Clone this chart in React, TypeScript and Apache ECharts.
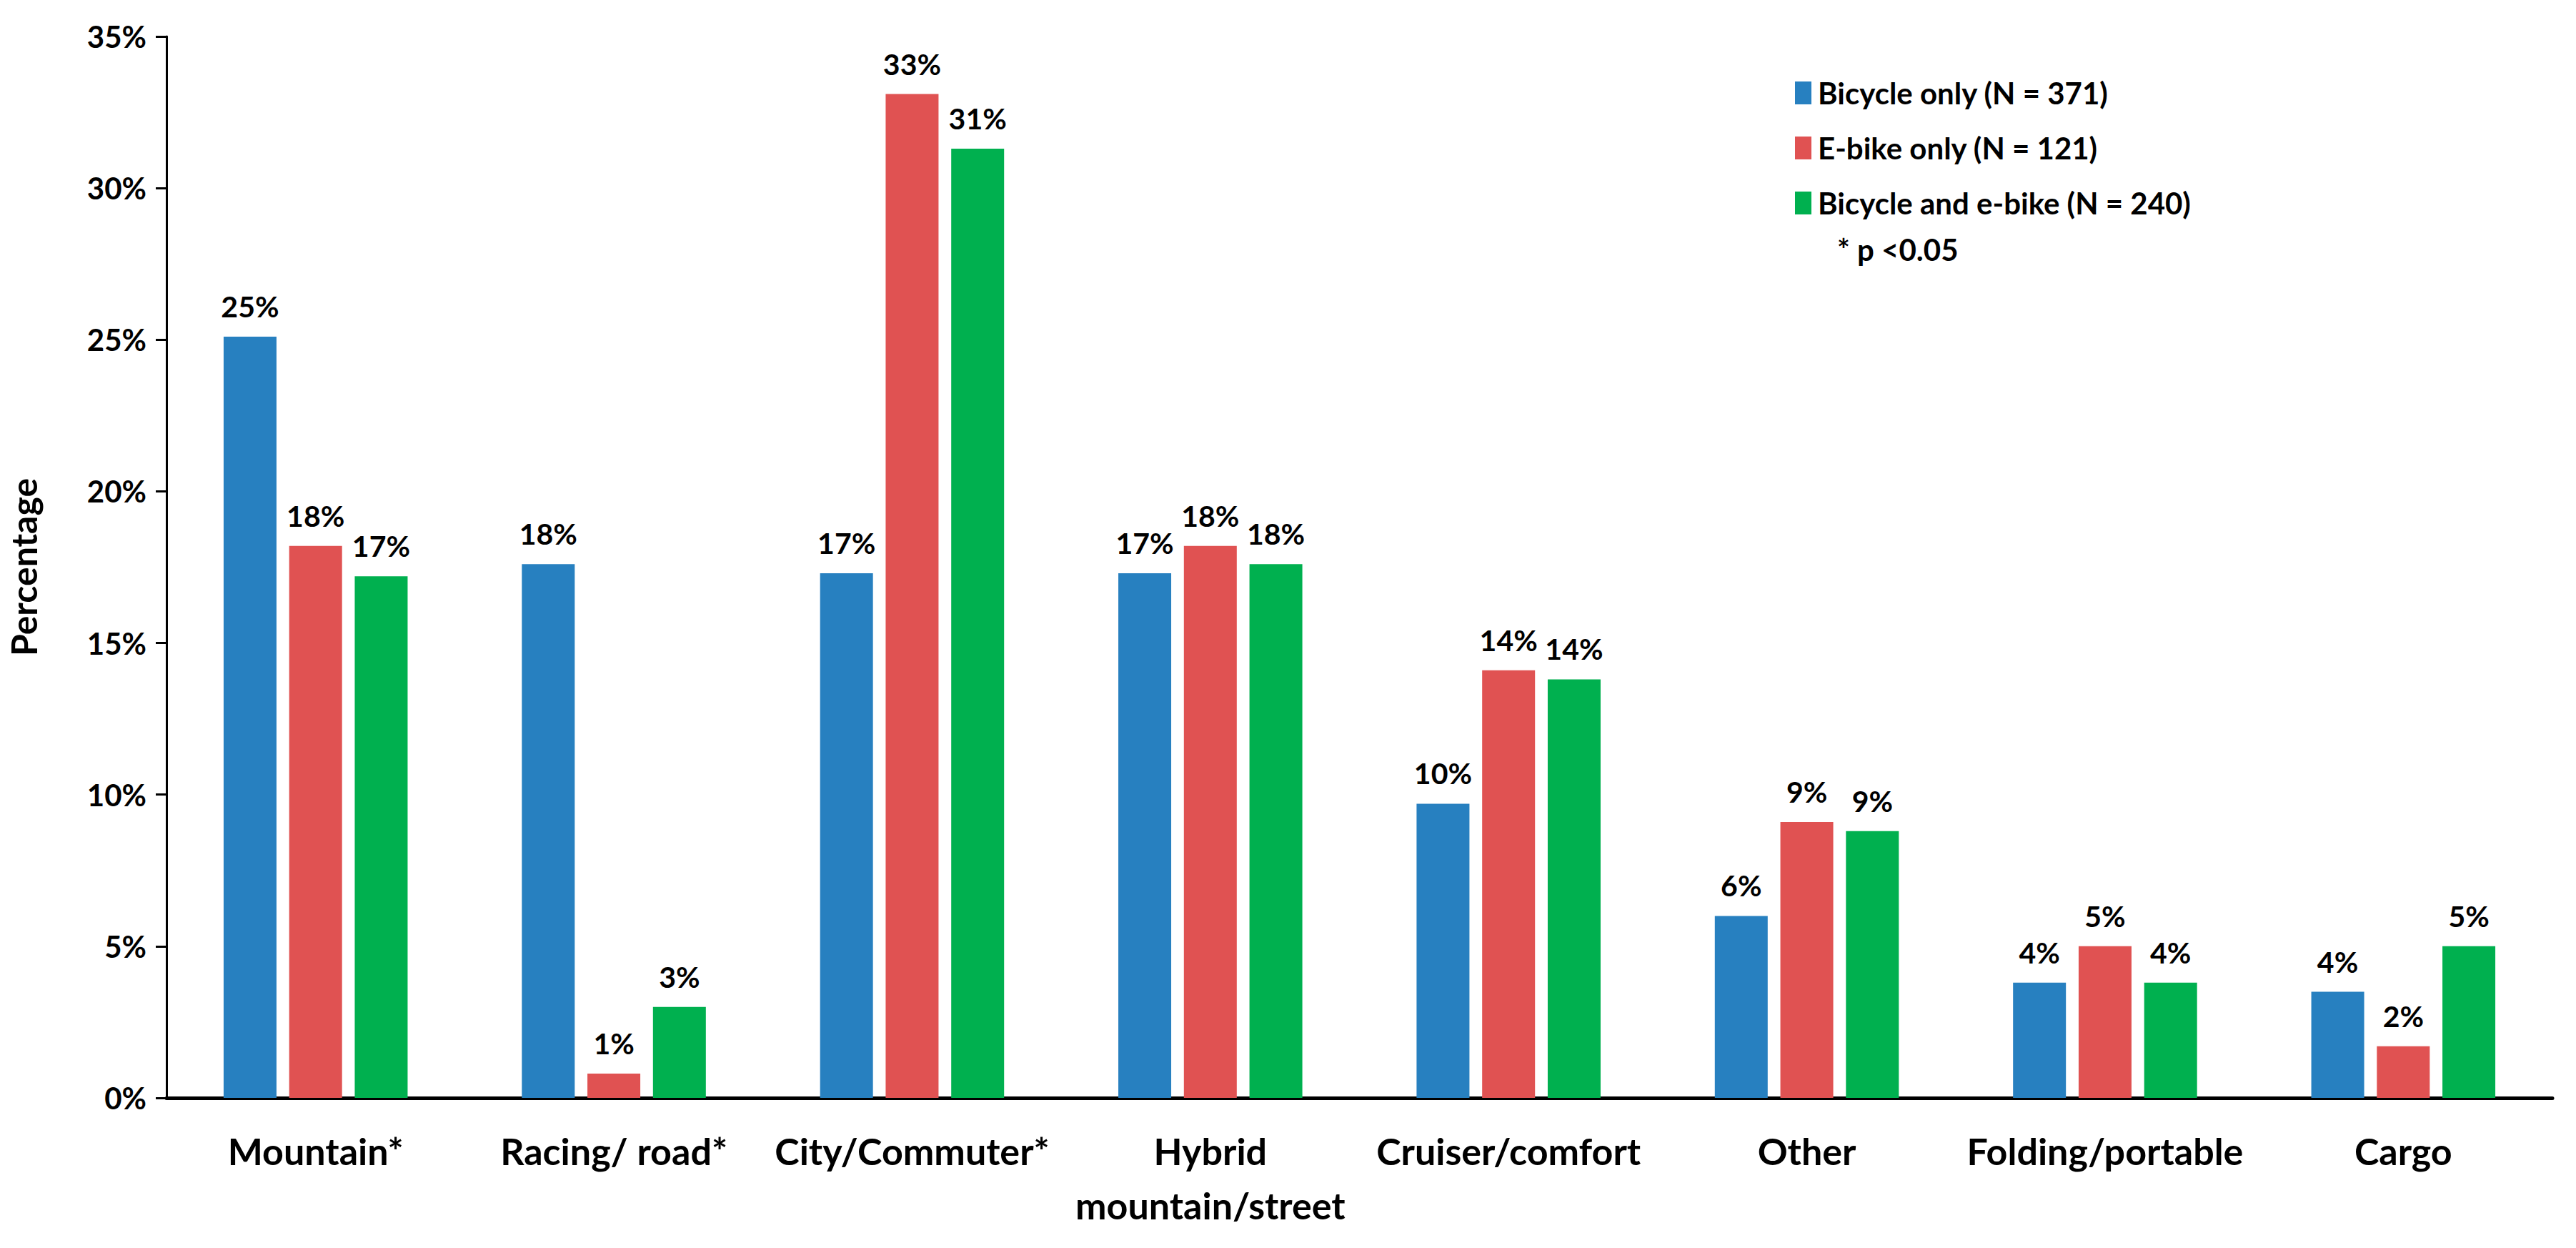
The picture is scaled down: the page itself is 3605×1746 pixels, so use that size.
import React, { useEffect, useRef } from "react";
import * as echarts from "echarts";

const categories = [
  "Mountain*",
  "Racing/ road*",
  "City/Commuter*",
  "Hybrid\nmountain/street",
  "Cruiser/comfort",
  "Other",
  "Folding/portable",
  "Cargo",
];
const seriesNames = [
  "Bicycle only (N = 371)",
  "E-bike only (N = 121)",
  "Bicycle and e-bike (N = 240)",
];
const bicycleOnly = [25.1, 17.6, 17.3, 17.3, 9.7, 6.0, 3.8, 3.5];
const ebikeOnly = [18.2, 0.8, 33.1, 18.2, 14.1, 9.1, 5.0, 1.7];
const bothBikes = [17.2, 3.0, 31.3, 17.6, 13.8, 8.8, 3.8, 5.0];
const colors = ["#2780C0", "#E05252", "#00B04F"];
const yTicks = { min: 0, max: 35, interval: 5 };

const FONT = "Lato, 'Open Sans', sans-serif";

export default function App() {
  const ref = useRef<HTMLDivElement>(null);
  useEffect(() => {
    document.body.style.margin = "0";
    const chart = echarts.init(ref.current!, null, { renderer: "svg" });
    const data = [bicycleOnly, ebikeOnly, bothBikes];
    chart.setOption({
      animation: false,
      backgroundColor: "#ffffff",
      textStyle: { fontFamily: FONT, fontWeight: "bold", color: "#000" },
      grid: { left: 228, right: 33, top: 51, bottom: 210, containLabel: false },
      legend: {
        orient: "vertical",
        left: 2507,
        top: 100,
        itemWidth: 23,
        itemHeight: 32,
        itemGap: 27,
        icon: "rect",
        data: seriesNames,
        textStyle: {
          fontFamily: FONT,
          fontWeight: "bold",
          fontSize: 42,
          lineHeight: 50,
          color: "#000",
          padding: [0, 0, 0, 4],
        },
      },
      graphic: [
        {
          type: "text",
          left: 2571,
          top: 328,
          style: {
            text: "* p <0.05",
            font: `bold 42px ${FONT}`,
            fill: "#000",
          },
        },
      ],
      xAxis: {
        type: "category",
        data: categories,
        axisLine: { lineStyle: { color: "#000", width: 5 } },
        axisTick: { show: false },
        axisLabel: {
          interval: 0,
          margin: 36,
          fontFamily: FONT,
          fontWeight: "bold",
          fontSize: 52,
          lineHeight: 76,
          color: "#000",
        },
      },
      yAxis: {
        type: "value",
        min: yTicks.min,
        max: yTicks.max,
        interval: yTicks.interval,
        name: "Percentage",
        nameLocation: "middle",
        nameGap: 175,
        nameTextStyle: {
          fontFamily: FONT,
          fontWeight: "bold",
          fontSize: 50,
          color: "#000",
        },
        axisLine: { show: true, lineStyle: { color: "#000", width: 3 } },
        axisTick: { show: true, length: 15, lineStyle: { color: "#000", width: 3 } },
        splitLine: { show: false },
        axisLabel: {
          formatter: "{value}%",
          margin: 28,
          fontFamily: FONT,
          fontWeight: "bold",
          fontSize: 42,
          color: "#000",
        },
      },
      series: seriesNames.map((name, i) => ({
        name,
        type: "bar",
        data: data[i],
        barWidth: 74,
        barGap: "24%",
        itemStyle: { color: colors[i] },
        label: {
          show: true,
          position: "top",
          distance: 22,
          formatter: (p: any) => `${Math.round(p.value)}%`,
          fontFamily: FONT,
          fontWeight: "bold",
          fontSize: 41,
          color: "#000",
        },
      })),
    });
    return () => chart.dispose();
  }, []);
  return <div ref={ref} style={{ width: 3605, height: 1746 }} />;
}
